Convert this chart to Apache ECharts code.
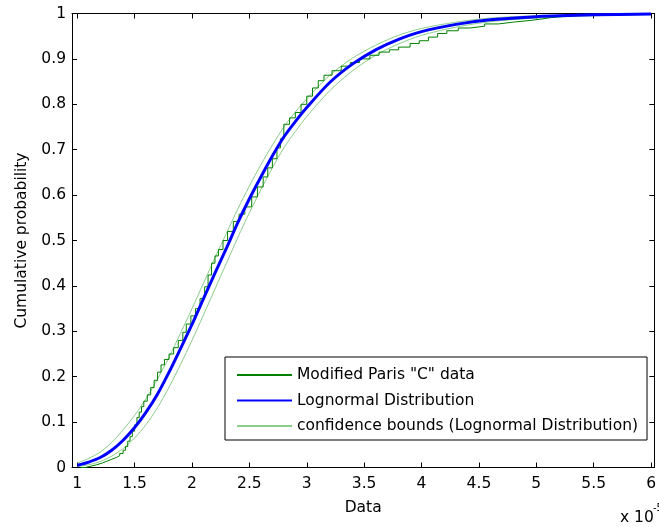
<!DOCTYPE html>
<html>
<head>
<meta charset="utf-8">
<script src="https://cdn.jsdelivr.net/npm/echarts@6/dist/echarts.min.js"></script>
<style>html,body{margin:0;padding:0;background:#fff;}#c{width:659px;height:527px;}</style>
</head>
<body>
<div id="c"></div>
<script>
// ---- data (x in units of 1e-5) ----
const xTicks = [1, 1.5, 2, 2.5, 3, 3.5, 4, 4.5, 5, 5.5, 6];
const fitX = [1.0,1.1,1.2,1.3,1.4,1.5,1.6,1.7,1.8,1.9,2.0,2.1,2.2,2.3,2.4,2.5,2.6,2.7,2.8,2.9,3.0,3.2,3.4,3.6,3.8,4.0,4.3,4.6,5.0,5.5,6.0];
const fitP = [0.005,0.012,0.022,0.038,0.060,0.088,0.122,0.162,0.210,0.262,0.315,0.372,0.428,0.483,0.540,0.592,0.640,0.686,0.728,0.762,0.793,0.848,0.889,0.920,0.943,0.960,0.976,0.986,0.993,0.997,0.999];
const upperP = [0.010,0.020,0.034,0.055,0.083,0.115,0.152,0.195,0.243,0.296,0.350,0.406,0.462,0.516,0.570,0.620,0.667,0.710,0.750,0.783,0.812,0.864,0.902,0.930,0.952,0.967,0.981,0.990,0.995,0.998,0.9995];
const lowerP = [0.002,0.006,0.013,0.025,0.042,0.065,0.095,0.132,0.177,0.227,0.280,0.336,0.393,0.450,0.507,0.561,0.612,0.660,0.704,0.740,0.773,0.830,0.874,0.908,0.933,0.952,0.970,0.982,0.990,0.995,0.998];
const dataX = [1.03,1.07,1.12,1.17,1.22,1.26,1.30,1.34,1.37,1.40,1.42,1.44,1.46,1.48,1.50,1.52,1.54,1.56,1.58,1.61,1.64,1.67,1.70,1.73,1.76,1.80,1.84,1.88,1.92,1.95,1.99,2.03,2.07,2.11,2.14,2.17,2.20,2.23,2.27,2.31,2.36,2.41,2.46,2.52,2.57,2.62,2.66,2.70,2.74,2.77,2.80,2.85,2.90,2.95,3.00,3.05,3.10,3.15,3.22,3.30,3.38,3.46,3.55,3.63,3.72,3.80,3.90,3.98,4.06,4.14,4.22,4.32,4.42,4.55,4.67,4.80,4.96,5.05,5.13,5.25,5.40,5.55];
const dataP = [0.000,0.003,0.006,0.010,0.014,0.018,0.022,0.026,0.031,0.038,0.046,0.058,0.068,0.080,0.094,0.110,0.122,0.134,0.146,0.160,0.176,0.192,0.210,0.226,0.238,0.250,0.264,0.280,0.298,0.316,0.334,0.350,0.372,0.398,0.424,0.450,0.466,0.480,0.500,0.520,0.542,0.558,0.574,0.596,0.618,0.640,0.660,0.680,0.704,0.724,0.756,0.770,0.782,0.800,0.818,0.836,0.852,0.864,0.874,0.884,0.892,0.900,0.908,0.915,0.920,0.926,0.934,0.940,0.948,0.956,0.962,0.968,0.972,0.977,0.981,0.985,0.988,0.991,0.994,0.996,0.998,1.000];
const names = ['Modified Paris "C" data', 'Lognormal Distribution', 'confidence bounds (Lognormal Distribution)'];

const pair = (xs, ys) => xs.map((x, i) => [x, ys[i]]);
const FONT = 'DejaVu Sans';
const FS = 15.5;
const chart = echarts.init(document.getElementById('c'), null, {renderer: 'canvas'});
const axisCommon = {
  axisLine: {show: true, onZero: false, lineStyle: {color: '#000', width: 1}},
  axisTick: {show: true, inside: true, length: 5, lineStyle: {color: '#000'}},
  splitLine: {show: false}
};
chart.setOption({
  animation: false,
  backgroundColor: '#fff',
  textStyle: {fontFamily: FONT},
  grid: {left: 72, right: -1, top: 13.5, bottom: 59.5, containLabel: false},
  xAxis: [
    Object.assign({}, axisCommon, {
      type: 'value', min: 0.9543, max: 6.0286, position: 'bottom',
      axisTick: Object.assign({}, axisCommon.axisTick, {customValues: xTicks}),
      axisLabel: {customValues: xTicks, color: '#000', fontFamily: FONT, fontSize: FS, margin: 8},
      name: 'Data', nameLocation: 'middle', nameGap: 32,
      nameTextStyle: {color: '#000', fontFamily: FONT, fontSize: FS}
    }),
    Object.assign({}, axisCommon, {
      type: 'value', min: 0.9543, max: 6.0286, position: 'top',
      axisTick: Object.assign({}, axisCommon.axisTick, {customValues: xTicks}),
      axisLabel: {show: false}
    })
  ],
  yAxis: [
    Object.assign({}, axisCommon, {
      type: 'value', min: 0, max: 1, interval: 0.1, position: 'left',
      axisLabel: {color: '#000', fontFamily: FONT, fontSize: FS, margin: 6},
      name: 'Cumulative probability', nameLocation: 'middle', nameGap: 42, nameRotate: 90,
      nameTextStyle: {color: '#000', fontFamily: FONT, fontSize: FS}
    }),
    Object.assign({}, axisCommon, {
      type: 'value', min: 0, max: 1, interval: 0.1, position: 'right',
      axisLabel: {show: false}
    })
  ],
  legend: {
    data: names,
    orient: 'vertical', left: 225, top: 357,
    backgroundColor: '#fff', borderColor: '#000', borderWidth: 1, borderRadius: 0,
    padding: [10, 9, 6, 11],
    itemWidth: 55, itemHeight: 16, itemGap: 9.5,
    itemStyle: {opacity: 0},
    textStyle: {color: '#000', fontFamily: FONT, fontSize: FS},
    selectedMode: false
  },
  series: [
    {name: names[2], type: 'line', data: pair(fitX, upperP), symbol: 'none', smooth: 0.3,
     lineStyle: {color: 'rgb(140,205,140)', width: 1}, itemStyle: {color: 'rgb(140,205,140)'}},
    {name: 'lower bound', type: 'line', data: pair(fitX, lowerP), symbol: 'none', smooth: 0.3,
     lineStyle: {color: 'rgb(140,205,140)', width: 1}, itemStyle: {color: 'rgb(140,205,140)'}},
    {name: names[0], type: 'line', data: pair(dataX, dataP), symbol: 'none', step: 'end',
     lineStyle: {color: '#008000', width: 1}, itemStyle: {color: '#008000'}},
    {name: names[1], type: 'line', data: pair(fitX, fitP), symbol: 'none', smooth: 0.3,
     lineStyle: {color: '#0000ff', width: 3}, itemStyle: {color: '#0000ff'}}
  ],
  graphic: [
    {type: 'text', left: 620, top: 510, style: {text: 'x 10', font: FS + 'px "' + FONT + '"', fill: '#000'}},
    {type: 'text', left: 653, top: 503, style: {text: '-5', font: '10px "' + FONT + '"', fill: '#000'}}
  ]
});
</script>
</body>
</html>
